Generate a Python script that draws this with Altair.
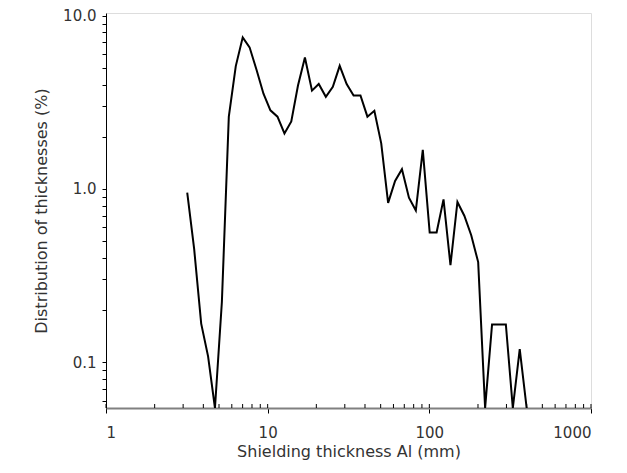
import altair as alt
import pandas as pd

# Shielding thickness (mm), bin centres
thickness_mm = [3.18, 3.51, 3.88, 4.28, 4.72, 5.21, 5.75, 6.35, 7.01, 7.73,
                8.54, 9.42, 10.4, 11.5, 12.7, 14.0, 15.4, 17.0, 18.8, 20.7,
                22.9, 25.3, 27.9, 30.8, 34.0, 37.5, 41.4, 45.7, 50.4, 55.6,
                61.4, 67.7, 74.8, 82.5, 91.1, 100.5, 110.9, 122.4, 135.1, 149.2,
                164.6, 181.6, 200.5, 221.3, 244.3, 269.5, 297.4, 328.4, 362.4, 400.0]
# Distribution of thicknesses (%), 0 = empty bin (drawn on the axis floor)
distribution_pct = [0.95, 0.45, 0.167, 0.108, 0.0, 0.223, 2.61, 5.11, 7.49, 6.56,
                    4.85, 3.54, 2.84, 2.61, 2.09, 2.45, 3.95, 5.73, 3.69, 4.03,
                    3.40, 3.88, 5.13, 4.03, 3.46, 3.46, 2.61, 2.82, 1.83, 0.83,
                    1.11, 1.30, 0.89, 0.75, 1.68, 0.56, 0.56, 0.87, 0.363, 0.84,
                    0.70, 0.54, 0.378, 0.0, 0.165, 0.165, 0.165, 0.0, 0.119, 0.0]

x_domain = [1, 1000]
y_domain = [0.0544, 10.35]
x_major = [1, 10, 100, 1000]
x_ticks = [1, 2, 3, 4, 5, 6, 7, 8, 9, 10, 20, 30, 40, 50, 60, 70, 80, 90,
           100, 200, 300, 400, 500, 600, 700, 800, 900, 1000]
y_ticks = [0.06, 0.07, 0.08, 0.09, 0.1, 0.2, 0.3, 0.4, 0.5, 0.6, 0.7, 0.8, 0.9,
           1, 2, 3, 4, 5, 6, 7, 8, 9, 10]

df = pd.DataFrame({
    "x": thickness_mm,
    "y": [max(v, y_domain[0]) for v in distribution_pct],
})
ticks_df = pd.DataFrame({"x": x_ticks})

FONT = "DejaVu Sans"
TXT = "#333333"
H = 395

x_scale = alt.Scale(type="log", domain=x_domain, nice=False)
y_scale = alt.Scale(type="log", domain=y_domain, nice=False)

x_axis = alt.Axis(
    values=x_major,
    format="d",
    title="Shielding thickness Al (mm)",
    grid=False, ticks=True,
    domainColor="#808080", domainWidth=2,
    tickColor="#000000", tickWidth=1, tickSize=5,
    labelFont=FONT, labelFontSize=15, labelColor=TXT, labelPadding=12,
    titleFont=FONT, titleFontSize=16, titleFontWeight="normal", titleColor=TXT,
    titlePadding=3,
)
y_axis = alt.Axis(
    values=y_ticks,
    format=".1f",
    labelExpr="(datum.value == 0.1 || datum.value == 1 || datum.value == 10) ? datum.label : ''",
    title="Distribution of thicknesses (%)",
    grid=False, ticks=True,
    domainColor="#000000", domainWidth=1,
    tickColor="#000000", tickWidth=1, tickSize=4,
    labelFont=FONT, labelFontSize=15, labelColor=TXT, labelPadding=6,
    titleFont=FONT, titleFontSize=16, titleFontWeight="normal", titleColor=TXT,
    titlePadding=13,
)

line = alt.Chart(df).mark_line(color="black", strokeWidth=2, clip=True).encode(
    x=alt.X("x:Q", scale=x_scale, axis=x_axis),
    y=alt.Y("y:Q", scale=y_scale, axis=y_axis),
    order=alt.Order("x:Q"),
)

inner_ticks = alt.Chart(ticks_df).mark_rule(color="black", strokeWidth=1).encode(
    x=alt.X("x:Q", scale=x_scale, axis=x_axis),
    y=alt.value(H),
    y2=alt.value(H - 4),
)

chart = alt.layer(line, inner_ticks).properties(
    width=485,
    height=H,
    autosize=alt.AutoSizeParams(type="none"),
    padding={"left": 98, "top": 5, "right": 20, "bottom": 57},
).configure_view(
    stroke="#808080", strokeWidth=2
).configure(background="white")

chart.save("out.html", embed_options={"renderer": "svg", "actions": False})
